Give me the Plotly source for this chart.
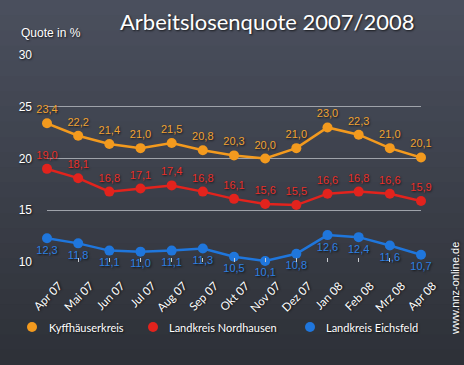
import plotly.graph_objects as go

months = ["Apr 07", "Mai 07", "Jun 07", "Jul 07", "Aug 07", "Sep 07", "Okt 07",
          "Nov 07", "Dez 07", "Jan 08", "Feb 08", "Mrz 08", "Apr 08"]
kyff = [23.4, 22.2, 21.4, 21.0, 21.5, 20.8, 20.3, 20.0, 21.0, 23.0, 22.3, 21.0, 20.1]
nord = [19.0, 18.1, 16.8, 17.1, 17.4, 16.8, 16.1, 15.6, 15.5, 16.6, 16.8, 16.6, 15.9]
eich = [12.3, 11.8, 11.1, 11.0, 11.1, 11.3, 10.5, 10.1, 10.8, 12.6, 12.4, 11.6, 10.7]
series_names = ["Kyffhäuserkreis", "Landkreis Nordhausen", "Landkreis Eichsfeld"]
y_ticks = [10, 15, 20, 25, 30]

colors = ["#f39a1e", "#e2231d", "#1f76dc"]
label_colors = ["#f0a232", "#e8302a", "#2d80e2"]
positions = ["top center", "top center", "bottom center"]
shadow = "1px 1px 2px rgba(0,0,0,0.7)"

W, H = 464, 365
ML, MR, MT, MB = 47, 43, 55, 103
pw = W - ML - MR
ph = H - MT - MB
def px(x):
    return (x - ML) / pw
def py(y):
    return (H - MB - y) / ph

def fmt(v):
    return f"{v:.1f}".replace(".", ",")

fig = go.Figure()
for name, vals, c, lc, pos in zip(series_names, [kyff, nord, eich], colors, label_colors, positions):
    fig.add_trace(go.Scatter(
        x=months, y=vals, mode="lines+markers+text", name=name,
        line=dict(color=c, width=2.5),
        marker=dict(color=c, size=10),
        text=[fmt(v) for v in vals], textposition=pos,
        textfont=dict(family="Liberation Sans", size=11, color=lc, shadow=shadow),
        cliponaxis=False, showlegend=False,
    ))

annotations = [
    dict(text="Arbeitslosenquote 2007/2008", x=px(267), y=py(22), xref="paper", yref="paper",
         xanchor="center", yanchor="middle", showarrow=False,
         font=dict(family="Lato", size=22, color="white", shadow=shadow)),
    dict(text="Quote in %", x=px(19), y=py(33), xanchor="left", yanchor="middle",
         showarrow=False, xref="paper", yref="paper",
         font=dict(family="Liberation Sans", size=12, color="white", shadow=shadow)),
    dict(text="www.nnz-online.de", textangle=-90, x=px(455), y=py(288),
         xanchor="center", yanchor="middle", showarrow=False,
         xref="paper", yref="paper",
         font=dict(family="Liberation Sans", size=11, color="white", shadow=shadow)),
]

shapes = []
# background: soft vertical gradient (chalkboard tone)
top_c = (74, 79, 93)
bot_c = (46, 49, 56)
n_bands = 24
for i in range(n_bands):
    t = i / (n_bands - 1)
    r, g, b = (round(top_c[k] + (bot_c[k] - top_c[k]) * t) for k in range(3))
    y0 = H * i / n_bands
    y1 = H * (i + 1) / n_bands + 1
    shapes.append(dict(type="rect", xref="paper", yref="paper", layer="below",
                       x0=px(0), x1=px(W), y0=py(y1), y1=py(y0),
                       fillcolor=f"rgb({r},{g},{b})", line=dict(width=0)))

# legend drawn as dots + labels
legend_dot_x = [32, 153, 310]
legend_text_x = [47, 167, 324]
legend_y = 327
for name, c, dx, tx in zip(series_names, colors, legend_dot_x, legend_text_x):
    shapes.append(dict(type="circle", xref="paper", yref="paper",
                       xsizemode="pixel", ysizemode="pixel",
                       xanchor=px(dx), yanchor=py(legend_y),
                       x0=-5, x1=5, y0=-5, y1=5,
                       fillcolor=c, line=dict(width=0)))
    annotations.append(dict(text=name, x=px(tx), y=py(legend_y), xref="paper", yref="paper",
                            xanchor="left", yanchor="middle", showarrow=False,
                            font=dict(family="Lato", size=11, color="white", shadow=shadow)))

fig.update_layout(
    width=W, height=H,
    margin=dict(l=ML, r=MR, t=MT, b=MB),
    paper_bgcolor="#3b3f49", plot_bgcolor="rgba(0,0,0,0)",
    font=dict(family="Liberation Sans", color="white"),
    showlegend=False,
    xaxis=dict(range=[0, 12], showgrid=False, zeroline=False, showline=False,
               tickangle=-45, ticks="inside", ticklen=4, tickcolor="#c8cad0",
               ticklabelshift=12, ticklabelstandoff=14,
               tickfont=dict(family="Lato", size=11.5, color="white", shadow=shadow)),
    yaxis=dict(range=[10, 30], tickvals=y_ticks, showgrid=True, gridcolor="#9fa3aa",
               gridwidth=1, zeroline=False, showline=False, ticklabelstandoff=14,
               tickfont=dict(family="Liberation Sans", size=12, color="white", shadow=shadow)),
    annotations=annotations,
    shapes=shapes,
)

fig.write_html("out.html", config={"displayModeBar": False},
               post_script="document.body.style.margin='0';document.body.style.overflow='hidden';")
